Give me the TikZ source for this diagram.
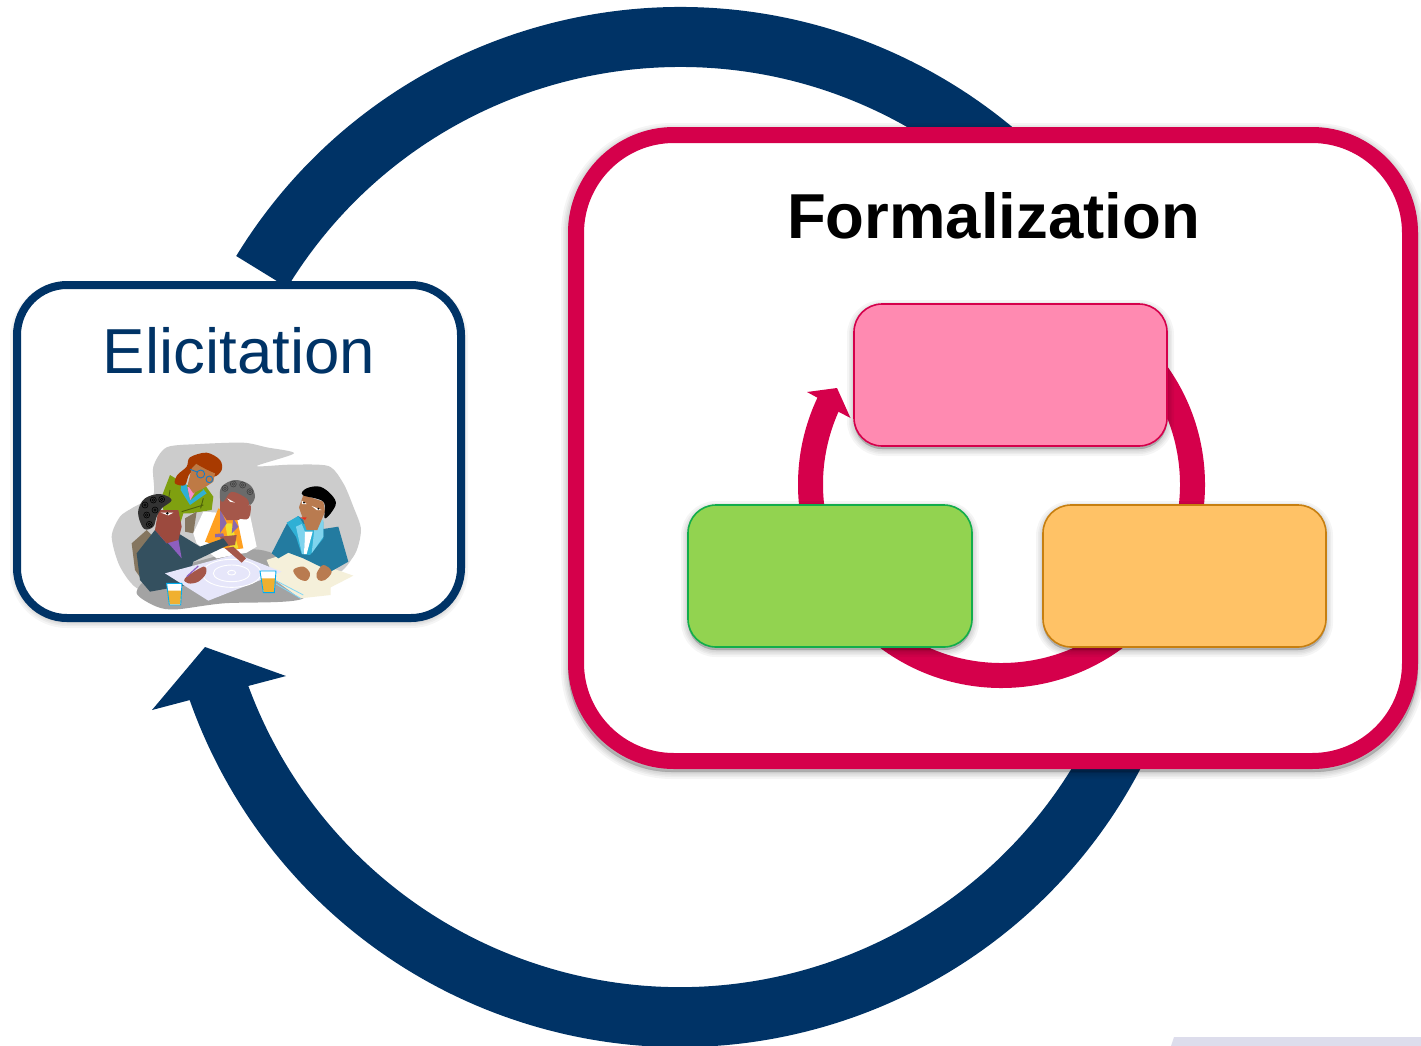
\documentclass[tikz,border=0pt]{standalone}
\usepackage{fontspec}
\setmainfont{Liberation Sans}
\definecolor{navyb}{HTML}{003366}
\definecolor{crim}{HTML}{D5004B}
\definecolor{pinkf}{HTML}{FF8AB1}
\definecolor{greenf}{HTML}{92D350}
\definecolor{greene}{HTML}{12AD4B}
\definecolor{orangef}{HTML}{FFC266}
\definecolor{orangee}{HTML}{C77F10}
\definecolor{lav}{HTML}{DDDDEC}
\definecolor{blobc}{HTML}{CCCCCC}
\definecolor{tablec}{HTML}{A3A3A3}
\definecolor{cream}{HTML}{F5F0DA}
\definecolor{tealdk}{HTML}{237BA0}
\definecolor{teallt}{HTML}{2FB0D5}
\definecolor{tealpl}{HTML}{7FD4EE}
\definecolor{skinr}{HTML}{B97B50}
\definecolor{skinm}{HTML}{A5574A}
\definecolor{skinf}{HTML}{9C4A3E}
\definecolor{skinw}{HTML}{BE7A45}
\definecolor{jackg}{HTML}{7FA010}
\definecolor{hairw}{HTML}{A83A00}
\definecolor{vest}{HTML}{FFA020}
\definecolor{jackn}{HTML}{34505F}
\definecolor{purp}{HTML}{8E5FC0}
\definecolor{chairc}{HTML}{857660}
\definecolor{planc}{HTML}{E6E6FA}
\definecolor{beer}{HTML}{F0B030}
\definecolor{tiec}{HTML}{F2E030}
\tikzset{
  panel/.style={rectangle,rounded corners=#1,inner sep=0pt,outer sep=0pt},
  softlayer/.style={draw=black,fill=black,opacity=.04,line join=round},
  lab/.style={anchor=base,inner sep=0pt,outer sep=0pt},
}
% soft shadow: x1 y1 x2 y2 radius
\newcommand{\softshadow}[5]{%
  \foreach \w in {14,10,7,4,1}{%
    \draw[softlayer,line width=\w pt,rounded corners=#5 pt] (#1,#2+3) rectangle (#3,#4+3);}%
}
\newcommand{\curls}[2]{%
  \foreach \p in {#2}{\draw[#1,line width=.6pt] \p circle (9);\draw[#1,line width=.5pt] \p circle (4);}%
}
\begin{document}
\begin{tikzpicture}[x=1pt,y=1pt,yscale=-1]
\useasboundingbox (0,0) rectangle (1421,1045);
\fill[white] (0,0) rectangle (1421,1045);
\fill[lav] (1171,1046) -- (1174,1037) -- (1421,1037) -- (1421,1046) -- cycle;

% large navy arcs
\coordinate (bigc) at (680,527);
\draw[navyb,line width=60pt] (bigc) ++(-148.6:490pt) arc[start angle=-148.6,end angle=-25,radius=490pt];
\draw[navyb,line width=60pt] (bigc) ++(20:490pt) arc[start angle=20,end angle=161.5,radius=490pt];
\coordinate (h1) at (152,710);
\coordinate (h2) at (205,647);
\coordinate (h3) at (286,676);
\coordinate (h4) at (248,686);
\coordinate (h5) at (190,700);
\fill[navyb] (h1) -- (h2) -- (h3) -- (h4) -- (h5) -- cycle;

% elicitation box
\softshadow{17}{285}{461}{618}{50}
\node[panel=50pt,draw=navyb,fill=white,line width=8pt,minimum width=444pt,minimum height=333pt] (elic) at (239,451.5) {};
\node[lab,text=navyb,font=\fontsize{63.6}{63.6}\selectfont] (eliclab) at (239,373) {Elicitation};

% clip art
\begin{scope}[shift={(90,430)},scale=1/3]
  \fill[blobc] plot[smooth cycle,tension=.45] coordinates {(190,110)(230,52)(330,42)(460,38)(530,52)(612,70)(500,108)(600,104)(715,108)(760,160)(790,230)(813,300)(790,380)(700,450)(300,500)(150,480)(90,410)(65,320)(90,260)(130,232)(190,195)};
  \fill[tablec] plot[smooth cycle,tension=.5] coordinates {(140,490)(200,530)(260,538)(400,520)(640,505)(600,400)(490,358)(300,400)(180,440)};
  % paper
  \fill[cream] (530,390) -- (595,368) -- (790,437) -- (722,472) -- (722,495) -- (630,505) -- (555,450) -- cycle;
  \draw[cyan!50,line width=.8pt] (558,452) -- (640,495) (558,462) -- (632,505);
  % right person
  \fill[tealdk] (545,370) -- (590,282) -- (625,258) -- (680,300) -- (745,290) -- (775,395) -- (722,425) -- (640,385) -- (595,368) -- (565,385) -- cycle;
  \fill[teallt] (590,278) -- (625,258) -- (640,282) -- (700,275) -- (700,325) -- (660,375) -- (635,372) -- (618,320) -- cycle;
  \fill[tealpl] (618,290) -- (635,282) -- (645,305) -- (642,372) -- (636,372) -- cycle (675,280) -- (700,268) -- (700,320) -- (665,370) -- cycle;
  \fill[white] (645,305) -- (668,305) -- (650,372) -- (642,372) -- cycle;
  \fill[skinr] (627,232) -- (640,195) -- (700,215) -- (705,245) -- (682,300) -- (650,300) -- cycle;
  \fill[black] plot[smooth cycle,tension=.6] coordinates {(638,195)(650,175)(690,170)(725,195)(737,225)(705,265)(700,215)};
  \fill[skinr] plot[smooth cycle,tension=.6] coordinates {(610,420)(640,410)(660,430)(650,452)(625,445)};
  \fill[skinr] plot[smooth cycle,tension=.6] coordinates {(680,430)(700,405)(725,425)(705,450)(685,450)};
  \fill[white] (665,228) -- (695,240) -- (680,240) -- cycle (635,212) -- (650,222) -- (636,222) -- cycle;
  \fill[black] (642,218) circle (3);\fill[black] (685,236) circle (3);
  \fill[red!60!skinr] (630,262) -- (650,262) -- (645,270) -- cycle;
  % back woman
  \fill[jackg] (215,200) -- (240,135) -- (290,165) -- (345,165) -- (370,200) -- (365,240) -- (300,250) -- (280,250) -- (265,300) -- (220,240) -- cycle;
  \fill[magenta!45] (292,170) -- (320,178) -- (300,212) -- cycle;
  \fill[teallt] (275,150) -- (290,165) -- (300,212) -- (340,180) -- (330,165) -- (350,190) -- (300,225) -- (272,180) -- cycle;
  \draw[jackg!60!black,line width=.9pt] (275,245) -- (340,225) (340,205) -- (332,235) (240,180) -- (236,205);
  \fill[hairw] plot[smooth cycle,tension=.55] coordinates {(255,160)(262,135)(290,110)(300,82)(350,68)(390,90)(395,120)(372,140)(340,120)(300,130)(285,165)};
  \fill[skinw] (305,115) -- (320,100) -- (375,130) -- (370,155) -- (345,172) -- (310,190) -- (293,165) -- cycle;
  \fill[hairw] plot[smooth cycle,tension=.55] coordinates {(318,100)(345,95)(385,110)(378,130)};
  \draw[cyan!60!blue,line width=.9pt] (332,132) circle (12) (358,148) circle (10) (300,118) -- (322,126);
  % chairs
  \fill[chairc] (125,340) -- (170,300) -- (190,320) -- (170,470) -- (135,420) -- cycle;
  \fill[chairc] (285,265) -- (320,245) -- (310,310) -- (285,305) -- cycle;
  % middle person
  \fill[white] (310,310) -- (340,245) -- (480,255) -- (500,350) -- (470,368) -- (380,385) -- (320,340) -- cycle;
  \fill[vest] (345,335) -- (385,235) -- (440,260) -- (460,355) -- (420,360) -- cycle;
  \fill[tiec] (405,280) -- (425,280) -- (445,355) -- (420,360) -- cycle;
  \fill[purp!70!gray] (390,235) -- (410,280) -- (390,310) -- cycle (430,265) -- (445,290) -- (425,310) -- cycle (375,312) -- (400,310) -- (402,320) -- (375,322) -- cycle;
  \fill[skinm] (390,205) -- (420,175) -- (480,200) -- (472,255) -- (445,270) -- (410,270) -- (390,240) -- cycle;
  \fill[black!58] plot[smooth cycle,tension=.6] coordinates {(390,205)(395,170)(435,150)(480,165)(495,200)(480,225)(470,205)(425,185)(400,215)};
  \curls{black!75}{(405,175),(430,162),(458,165),(480,185)}
  \fill[skinm] plot[smooth cycle,tension=.6] coordinates {(445,260)(480,225)(480,255)(470,268)};
  \fill[white] (412,205) -- (435,218) -- (420,215) -- cycle;
  % front person
  \fill[skinm] (390,320) -- (440,315) -- (435,345) -- (400,350) -- cycle;
  \fill[jackn] (140,370) -- (195,300) -- (265,310) -- (330,350) -- (400,325) -- (415,345) -- (310,395) -- (290,465) -- (180,485) -- (150,450) -- cycle;
  \fill[purp] (195,300) -- (230,340) -- (262,310) -- (275,385) -- (240,345) -- cycle;
  \fill[skinf] (205,240) -- (265,240) -- (275,290) -- (265,330) -- (230,340) -- (195,300) -- cycle;
  \fill[black!80] plot[smooth cycle,tension=.6] coordinates {(145,240)(165,205)(210,192)(245,210)(215,235)(200,260)(190,290)(165,298)(150,275)};
  \curls{black}{(165,225),(190,210),(215,208),(170,255),(178,283),(195,240)}
  \fill[white] (212,248) -- (250,248) -- (235,256) -- cycle;
  \fill[black] (232,250) circle (4);
  % plan
  \fill[planc] (225,430) -- (440,372) -- (575,425) -- (355,512) -- cycle;
  \draw[white,line width=.9pt] (425,430) ellipse (88 and 42) (425,430) ellipse (55 and 25) (425,428) ellipse (12 and 7);
  \fill[skinm] plot[smooth cycle,tension=.6] coordinates {(285,445)(340,410)(348,430)(325,455)(295,460)};
  \draw[purp,line width=1.2pt] (290,440) -- (325,408);
  \fill[skinm] (405,355) -- (430,350) -- (468,385) -- (455,398) -- cycle;
  % glasses
  \fill[white] (230,460) -- (276,460) -- (272,525) -- (238,525) -- cycle;
  \fill[beer] (232,482) -- (274,482) -- (271,523) -- (239,523) -- cycle;
  \draw[cyan,line width=.9pt] (230,460) -- (276,460) -- (272,525) -- (238,525) -- cycle;
  \fill[white] (510,423) -- (558,423) -- (553,488) -- (520,488) -- cycle;
  \fill[beer] (513,445) -- (556,445) -- (552,486) -- (521,486) -- cycle;
  \draw[cyan,line width=.9pt] (510,423) -- (558,423) -- (553,488) -- (520,488) -- cycle;
\end{scope}

% formalization box
\softshadow{568}{127}{1418}{769}{104}
\node[panel=98pt,draw=crim,fill=white,line width=16pt,minimum width=834pt,minimum height=626pt] (form) at (993,448) {};
\node[lab,font=\bfseries\fontsize{63.5}{63.5}\selectfont] (formlab) at (993.5,238) {Formalization};

% inner cycle
\coordinate (smallc) at (1001.5,484.5);
\draw[crim,line width=25pt] (smallc) ++(-50:191pt) arc[start angle=-50,end angle=206,radius=191pt];
\coordinate (k1) at (807,392);
\coordinate (k2) at (837,388);
\coordinate (k3) at (850.5,418);
\coordinate (k4) at (839,412);
\coordinate (k5) at (818,398);
\fill[crim] (k1) -- (k2) -- (k3) -- (k4) -- (k5) -- cycle;

% inner boxes
\softshadow{854}{304}{1167}{446}{28}
\node[panel=28pt,draw=crim,fill=pinkf,line width=1.6pt,minimum width=313pt,minimum height=142pt] (pinkbox) at (1010.5,375) {};
\softshadow{688}{505}{972}{647}{28}
\node[panel=28pt,draw=greene,fill=greenf,line width=1.6pt,minimum width=284pt,minimum height=142pt] (greenbox) at (830,576) {};
\softshadow{1043}{505}{1326}{647}{28}
\node[panel=28pt,draw=orangee,fill=orangef,line width=1.6pt,minimum width=283pt,minimum height=142pt] (orangebox) at (1184.5,576) {};
\end{tikzpicture}
\end{document}
